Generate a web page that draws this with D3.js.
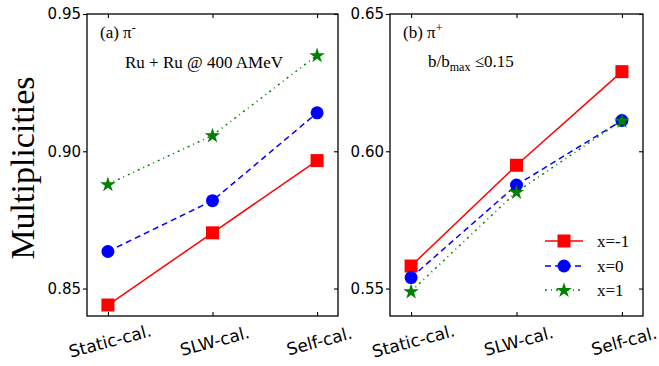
<!DOCTYPE html>
<html>
<head>
<meta charset="utf-8">
<script src="https://cdn.jsdelivr.net/npm/d3@7"></script>
<style>
body { margin: 0; background: #fff; }
svg text { fill: #000; }
</style>
</head>
<body>
<svg id="chart" width="659" height="366"></svg>
<script>
var categories = ["Static-cal.", "SLW-cal.", "Self-cal."];
var seriesNames = ["x=-1", "x=0", "x=1"];

// pi- panel
var piMinus_xm1 = [0.8440, 0.8703, 0.8966];
var piMinus_x0 = [0.8635, 0.8820, 0.9140];
var piMinus_x1 = [0.8880, 0.9058, 0.9350];
// pi+ panel
var piPlus_xm1 = [0.5582, 0.5949, 0.6290];
var piPlus_x0 = [0.5540, 0.5877, 0.6112];
var piPlus_x1 = [0.5490, 0.5852, 0.6112];

var ticksLeft = [0.85, 0.90, 0.95];
var ticksRight = [0.55, 0.60, 0.65];

var style = [
	{color: "#ff0000", dash: null, marker: "square"},
	{color: "#0000ff", dash: "6,4", marker: "circle"},
	{color: "#008000", dash: "2,4,1,4", marker: "star"}
];

var svg = d3.select("#chart");

var panels = [
	{left: 87, right: 338, domain: [0.84, 0.95], ticks: ticksLeft,
	 data: [piMinus_xm1, piMinus_x0, piMinus_x1]},
	{left: 390, right: 643, domain: [0.54, 0.65], ticks: ticksRight,
	 data: [piPlus_xm1, piPlus_x0, piPlus_x1]}
];
var plotTop = 14, plotBottom = 316;

function drawMarker(g, kind, cx, cy, color) {
	if (kind === "square") {
		g.append("rect").attr("x", cx - 6.5).attr("y", cy - 6.5)
			.attr("width", 13).attr("height", 13).attr("fill", color);
	} else if (kind === "circle") {
		g.append("circle").attr("cx", cx).attr("cy", cy).attr("r", 6.5).attr("fill", color);
	} else {
		g.append("path").attr("d", d3.symbol().type(d3.symbolStar).size(75)())
			.attr("transform", "translate(" + cx + "," + (cy + 0.5) + ")").attr("fill", color);
	}
}

panels.forEach(function(p, pi) {
	var x = d3.scaleLinear().domain([-0.2, 2.2]).range([p.left, p.right]);
	var y = d3.scaleLinear().domain(p.domain).range([plotBottom, plotTop]);
	var g = svg.append("g");

	var line = d3.line()
		.x(function(d, i) { return x(i); })
		.y(function(d) { return y(d); });

	p.data.forEach(function(vals, si) {
		g.append("path").datum(vals)
			.attr("d", line)
			.attr("fill", "none")
			.attr("stroke", style[si].color)
			.attr("stroke-width", 1.5)
			.attr("stroke-dasharray", style[si].dash);
	});
	p.data.forEach(function(vals, si) {
		vals.forEach(function(v, i) {
			drawMarker(g, style[si].marker, x(i), y(v), style[si].color);
		});
	});

	// frame
	g.append("rect").attr("x", p.left).attr("y", plotTop)
		.attr("width", p.right - p.left).attr("height", plotBottom - plotTop)
		.attr("fill", "none").attr("stroke", "#000").attr("stroke-width", 1.3);

	// axes
	var yAxis = d3.axisLeft(y).tickValues(p.ticks).tickFormat(d3.format(".2f")).tickSize(4).tickPadding(2);
	var ya = g.append("g").attr("transform", "translate(" + p.left + ",0)").call(yAxis);
	ya.select(".domain").remove();
	ya.selectAll("text").attr("font-family", "DejaVu Sans").attr("font-size", 15).attr("fill", "#000");

	var yRight = d3.axisLeft(y).tickValues(p.ticks).tickFormat("").tickSize(4);
	var yr = g.append("g").attr("transform", "translate(" + p.right + ",0)").call(yRight);
	yr.select(".domain").remove();

	var xBottom = d3.axisBottom(x).tickValues([0, 1, 2]).tickFormat(function(i) { return categories[i]; }).tickSize(-4);
	var xb = g.append("g").attr("transform", "translate(0," + plotBottom + ")").call(xBottom);
	xb.select(".domain").remove();
	xb.selectAll("text")
		.attr("font-family", "DejaVu Sans").attr("font-size", 17).attr("fill", "#000")
		.attr("text-anchor", "middle")
		.attr("y", 0).attr("dy", 0)
		.attr("transform", "translate(2,26) rotate(-15)")
		.attr("dominant-baseline", "middle");

	var xTop = d3.axisBottom(x).tickValues([0, 1, 2]).tickFormat("").tickSize(4);
	var xt = g.append("g").attr("transform", "translate(0," + plotTop + ")").call(xTop);
	xt.select(".domain").remove();

	g.selectAll(".tick line").attr("stroke", "#000").attr("stroke-width", 1.1);
});

// annotations
var serif = "Liberation Serif";
var a = svg.append("text").attr("x", 100).attr("y", 38).attr("font-family", serif).attr("font-size", 17);
a.append("tspan").text("(a)  \u03c0");
a.append("tspan").attr("dy", -6).attr("font-size", 12).text("-");

svg.append("text").attr("x", 125).attr("y", 68).attr("font-family", serif).attr("font-size", 17)
	.text("Ru + Ru @ 400 AMeV");

var b = svg.append("text").attr("x", 403).attr("y", 38).attr("font-family", serif).attr("font-size", 17);
b.append("tspan").text("(b) \u03c0");
b.append("tspan").attr("dy", -6).attr("font-size", 12).text("+");

var c = svg.append("text").attr("x", 428).attr("y", 67).attr("font-family", serif).attr("font-size", 17);
c.append("tspan").text("b/b");
c.append("tspan").attr("dy", 4).attr("font-size", 12).text("max");
c.append("tspan").attr("dy", -4).text(" \u22640.15");

svg.append("text")
	.attr("transform", "translate(34,168) rotate(-90)")
	.attr("text-anchor", "middle")
	.attr("font-family", serif).attr("font-size", 34)
	.text("Multiplicities");

// legend
var legY = [241, 266, 290];
seriesNames.forEach(function(name, si) {
	var lg = svg.append("g");
	lg.append("line").attr("x1", 545).attr("x2", 583).attr("y1", legY[si]).attr("y2", legY[si])
		.attr("stroke", style[si].color).attr("stroke-width", 1.5)
		.attr("stroke-dasharray", style[si].dash);
	drawMarker(lg, style[si].marker, 564, legY[si], style[si].color);
	lg.append("text").attr("x", 597).attr("y", legY[si] + 6)
		.attr("font-family", serif).attr("font-size", 17).text(name);
});
</script>
</body>
</html>
